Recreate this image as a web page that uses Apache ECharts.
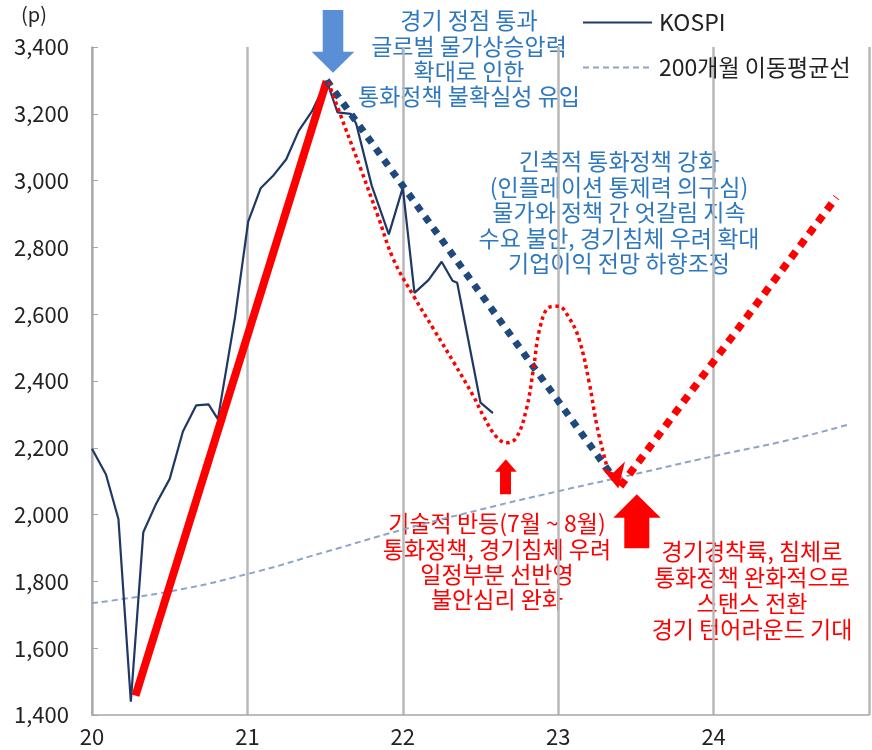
<!DOCTYPE html>
<html>
<head>
<meta charset="utf-8">
<script src="https://cdn.jsdelivr.net/npm/echarts/dist/echarts.min.js"></script>
<style>
  html, body {margin: 0; padding: 0; background: #fff;}
  #chart {width: 872px; height: 750px;}
</style>
</head>
<body>
<div id="chart"></div>
<script>
  // KOSPI (x = 연도 소수)
  const kospiX = [20.00, 20.09, 20.17, 20.25, 20.33, 20.41, 20.50, 20.585, 20.67, 20.75, 20.81, 20.92,
    21.005, 21.085, 21.17, 21.25, 21.33, 21.415, 21.51, 21.58, 21.665, 21.70, 21.80, 21.91, 22.00,
    22.075, 22.165, 22.25, 22.32, 22.35, 22.50, 22.58];
  const kospiY = [2197, 2120, 1987, 1440, 1947, 2030, 2107, 2249, 2327, 2330, 2286, 2590,
    2877, 2977, 3017, 3064, 3149, 3207, 3299, 3204, 3200, 3170, 2985, 2839, 2979,
    2664, 2702, 2757, 2700, 2694, 2335, 2304];

  // 200개월 이동평균선
  const maX = [20, 20.5, 21, 21.5, 22, 22.5, 23, 23.5, 24, 24.5, 24.87];
  const maY = [1735, 1770, 1822, 1888, 1955, 2015, 2070, 2122, 2175, 2225, 2270];

  // 상승 추세선 (빨간 굵은 선)
  const riseX = [20.28, 21.51];
  const riseY = [1458, 3298];

  // 하락 추세선 (남색 점선)
  const fallX = [21.51, 23.36];
  const fallY = [3300, 2108];

  // 기술적 반등 경로 (빨간 가는 점선)
  const pathX = [21.52, 21.625, 21.73, 21.84, 21.94, 22.07, 22.20, 22.33, 22.455, 22.52, 22.60, 22.667,
    22.73, 22.795, 22.84, 22.88, 22.94, 23.00, 23.07, 23.135, 23.20, 23.25, 23.31];
  const pathY = [3295, 3164, 3034, 2894, 2764, 2654, 2554, 2454, 2354, 2294, 2234, 2215,
    2230, 2315, 2434, 2554, 2620, 2624, 2589, 2524, 2394, 2264, 2150];

  // 반등 기대 경로 (빨간 굵은 점선)
  const reboundX = [23.40, 24.79];
  const reboundY = [2085, 2950];

  const yTicks = {min: 1400, max: 3400, interval: 200};

  const zip = (xs, ys) => xs.map((x, i) => [x, ys[i]]);

  const FONT = '"Noto Sans CJK KR", "Noto Sans", sans-serif';
  const blue = '#2e78c0';
  const red = '#ff0000';

  const chart = echarts.init(document.getElementById('chart'));

  const option = {
    animation: false,
    textStyle: {fontFamily: FONT},
    grid: {left: 92, right: -3, top: 47, bottom: 35},
    legend: {
      data: ['KOSPI', '200개월 이동평균선'],
      orient: 'vertical',
      left: 582,
      top: 11,
      padding: 0,
      itemWidth: 69,
      itemHeight: 14,
      itemGap: 22,
      itemStyle: {opacity: 0},
      textStyle: {fontSize: 23, color: '#222', fontFamily: FONT, padding: [0, 0, 0, 2]}
    },
    xAxis: {
      type: 'value',
      min: 20,
      max: 25,
      interval: 1,
      axisLine: {lineStyle: {color: '#a6a6a6', width: 1.5}},
      axisTick: {show: false},
      axisLabel: {
        fontSize: 22,
        color: '#222',
        margin: 11,
        formatter: v => v < 25 ? String(v) : ''
      },
      splitLine: {show: true, lineStyle: {color: '#b8b8b8', width: 2.5}}
    },
    yAxis: {
      type: 'value',
      min: yTicks.min,
      max: yTicks.max,
      interval: yTicks.interval,
      axisLine: {show: true, lineStyle: {color: '#a6a6a6', width: 1.5}},
      axisTick: {show: true, inside: true, length: 6, lineStyle: {color: '#a6a6a6'}},
      axisLabel: {
        fontSize: 22,
        color: '#222',
        margin: 23,
        formatter: v => v.toLocaleString('en-US')
      },
      splitLine: {show: false}
    },
    series: [
      {
        name: '200개월 이동평균선',
        type: 'line',
        data: zip(maX, maY),
        showSymbol: false,
        symbol: 'none',
        smooth: true,
        lineStyle: {color: '#8da6c8', width: 2, type: [6, 4]},
        itemStyle: {color: '#8da6c8'},
        z: 2
      },
      {
        name: 'KOSPI',
        type: 'line',
        data: zip(kospiX, kospiY),
        showSymbol: false,
        symbol: 'none',
        lineStyle: {color: '#1f3864', width: 2.2},
        itemStyle: {color: '#1f3864'},
        z: 3
      },
      {
        name: 'rise',
        type: 'line',
        data: zip(riseX, riseY),
        showSymbol: false,
        symbol: 'none',
        lineStyle: {color: red, width: 8, cap: 'butt'},
        z: 4
      },
      {
        name: 'fall',
        type: 'line',
        data: zip(fallX, fallY),
        showSymbol: false,
        symbol: 'none',
        lineStyle: {color: '#1f497d', width: 7, type: [7, 7], cap: 'butt'},
        z: 5
      },
      {
        name: 'path',
        type: 'line',
        data: zip(pathX, pathY),
        showSymbol: false,
        symbol: 'none',
        smooth: 0.4,
        lineStyle: {color: red, width: 3.5, type: [3.5, 3.5], cap: 'butt'},
        z: 6
      },
      {
        name: 'rebound',
        type: 'line',
        data: zip(reboundX, reboundY),
        showSymbol: false,
        symbol: 'none',
        lineStyle: {color: red, width: 7.5, type: [8, 7], cap: 'butt'},
        z: 6
      }
    ],
    graphic: [
      {
        type: 'text', left: 21, top: 4,
        style: {text: '(p)', font: '20px ' + FONT, fill: '#222'}
      },
      // 점선 끝 화살촉
      {
        type: 'polygon', z: 10,
        shape: {points: [[601.5, 468], [613.5, 472.5], [625, 461.5], [618.3, 488.5]]},
        style: {fill: red}
      },
      // 파란 하향 화살표
      {
        type: 'polygon',
        shape: {points: [[322.7, 10], [343.3, 10], [343.3, 51.7], [354.3, 51.7], [333, 72.7], [311.7, 51.7], [322.7, 51.7]]},
        style: {fill: '#5a8fd5'}
      },
      // 빨간 상향 화살표 (작은)
      {
        type: 'polygon',
        shape: {points: [[495, 471.7], [505.8, 459.3], [516.7, 471.7], [511, 471.7], [511, 494.3], [500, 494.3], [500, 471.7]]},
        style: {fill: red}
      },
      // 빨간 상향 화살표 (큰)
      {
        type: 'polygon',
        shape: {points: [[613.3, 517.7], [636.8, 494.3], [660.7, 517.7], [649.3, 517.7], [649.3, 548.3], [624.3, 548.3], [624.3, 517.7]]},
        style: {fill: red}
      },
      {
        type: 'text', x: 469, y: 8,
        style: {
          text: '경기 정점 통과\n글로벌 물가상승압력\n확대로 인한\n통화정책 불확실성 유입',
          font: '23px ' + FONT, fill: blue, align: 'center', verticalAlign: 'top', lineHeight: 25.3
        }
      },
      {
        type: 'text', x: 619, y: 149,
        style: {
          text: '긴축적 통화정책 강화\n(인플레이션 통제력 의구심)\n물가와 정책 간 엇갈림 지속\n수요 불안, 경기침체 우려 확대\n기업이익 전망 하향조정',
          font: '23px ' + FONT, fill: blue, align: 'center', verticalAlign: 'top', lineHeight: 25.5
        }
      },
      {
        type: 'text', x: 497, y: 511,
        style: {
          text: '기술적 반등(7월 ~ 8월)\n통화정책, 경기침체 우려\n일정부분 선반영\n불안심리 완화',
          font: '23px ' + FONT, fill: red, align: 'center', verticalAlign: 'top', lineHeight: 25.3
        }
      },
      {
        type: 'text', x: 752, y: 538.5,
        style: {
          text: '경기경착륙, 침체로\n통화정책 완화적으로\n스탠스 전환\n경기 턴어라운드 기대',
          font: '23px ' + FONT, fill: red, align: 'center', verticalAlign: 'top', lineHeight: 25.8
        }
      }
    ]
  };

  chart.setOption(option);
</script>
</body>
</html>
